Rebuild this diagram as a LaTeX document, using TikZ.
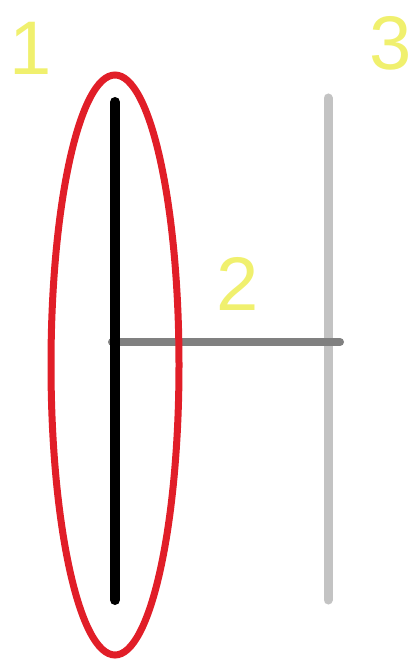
\documentclass[tikz,border=0pt]{standalone}
\usepackage{fontspec}
\usetikzlibrary{shapes.geometric}
\setmainfont{Liberation Sans}
\definecolor{lab}{RGB}{240,240,110}
\definecolor{redc}{RGB}{225,30,40}
\definecolor{midg}{RGB}{128,128,128}
\definecolor{lightg}{RGB}{195,195,195}
\tikzset{lbl/.style={text=lab, font=\fontsize{76}{76}\selectfont, inner sep=0pt},
  bar/.style={line width=9pt, line cap=round}}
\begin{document}
\begin{tikzpicture}[x=1pt,y=-1pt]
\useasboundingbox (0,0) rectangle (413,660);
\node[lbl] (l1) at (31,48) {1};
\node[lbl] (l3) at (391,43) {3};
\node[lbl] (l2) at (238,284) {2};
\coordinate (bt) at (115,102);
\coordinate (bb) at (115,600);
\coordinate (gt) at (328,98);
\coordinate (gb) at (328,600);
\coordinate (hl) at (112,342);
\coordinate (hr) at (340,342);
\draw[bar, lightg] (gt) -- (gb);
\draw[bar, midg, line width=8pt] (hl) -- (hr);
\draw[bar, black, line width=10pt] (bt) -- (bb);
\node[draw=redc, line width=7pt, ellipse, minimum width=128pt, minimum height=580pt, inner sep=0pt] (e) at (115,365) {};
\end{tikzpicture}
\end{document}
